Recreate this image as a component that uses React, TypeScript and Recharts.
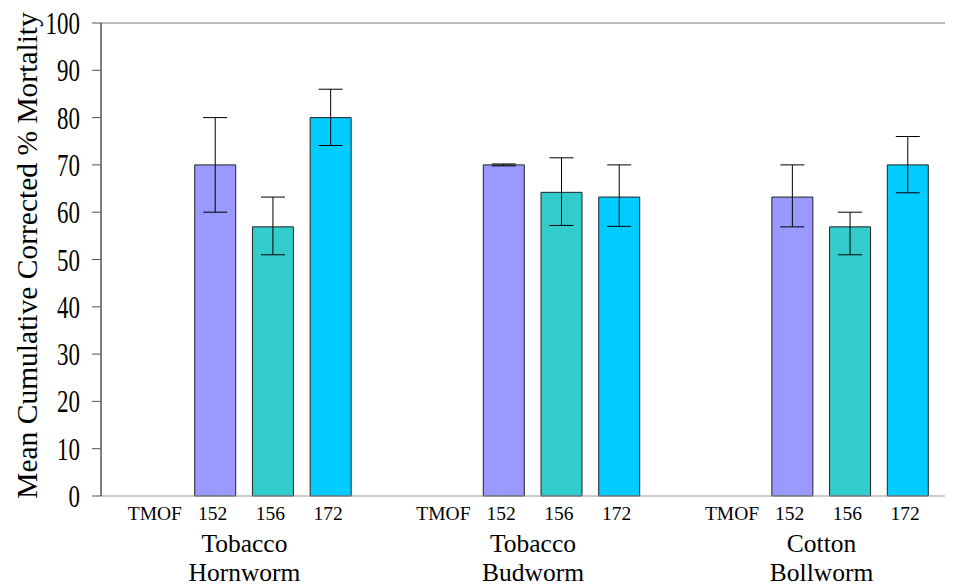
import React from 'react';
import { BarChart, Bar, XAxis, YAxis, Cell, ErrorBar, ReferenceLine } from 'recharts';

const treatments = ['TMOF', '152', '156', '172'];
const treatmentColors = ['#ffffff', '#9999ff', '#33cccc', '#00ccff'];
const groupTop = ['Tobacco', 'Tobacco', 'Cotton'];
const groupBottom = ['Hornworm', 'Budworm', 'Bollworm'];

// means and error bars (low, high) per treatment, TMOF has no bar
const hornwormMean = [null, 70, 56.9, 80];
const hornwormErrLow = [null, 10, 5.9, 5.9];
const hornwormErrHigh = [null, 10, 6.3, 6];
const budwormMean = [null, 70, 64.2, 63.2];
const budwormErrLow = [null, 0.2, 7, 6.2];
const budwormErrHigh = [null, 0.2, 7.3, 6.8];
const bollwormMean = [null, 63.2, 56.9, 70];
const bollwormErrLow = [null, 6.3, 5.9, 5.9];
const bollwormErrHigh = [null, 6.8, 3.1, 6];

const yTicks = [0, 10, 20, 30, 40, 50, 60, 70, 80, 90, 100];

const groupMeans = [hornwormMean, budwormMean, bollwormMean];
const groupLow = [hornwormErrLow, budwormErrLow, bollwormErrLow];
const groupHigh = [hornwormErrHigh, budwormErrHigh, bollwormErrHigh];

type Row = { id: string; pos: number; label: string; color: string; value: number | null; err: number[] | null };

const data: Row[] = [];
groupMeans.forEach((means, g) => {
  if (g > 0) {
    data.push({ id: `gap${g}`, pos: data.length, label: '', color: '#ffffff', value: null, err: null });
  }
  treatments.forEach((t, i) => {
    const v = means[i];
    data.push({
      id: `${g}-${t}`,
      pos: data.length,
      label: t,
      color: treatmentColors[i],
      value: v,
      err: v == null ? null : [groupLow[g][i] as number, groupHigh[g][i] as number],
    });
  });
});

// group label positions = middle of each 4-bar group on the index axis
const groupCenters = [1.5, 6.5, 11.5];

const serif = { fontFamily: 'Liberation Serif, Times New Roman, Times, serif' };

const YTick = (props: any) => {
  const { x, y, payload } = props;
  return (
    <text
      transform={`translate(${x - 12},${y + 11}) scale(0.74,1)`}
      textAnchor="end"
      style={serif}
      fontSize={31}
      fill="#000"
    >
      {payload.value}
    </text>
  );
};

const CatTick = (props: any) => {
  const { x, y, payload } = props;
  const row = data.find((d) => d.id === payload.value);
  return (
    <text x={x - 3} y={y + 24} textAnchor="middle" style={serif} fontSize={19.5} fill="#000">
      {row ? row.label : ''}
    </text>
  );
};

const GroupTick = (props: any) => {
  const { x, y, payload } = props;
  const gi = groupCenters.indexOf(payload.value);
  if (gi < 0) return null;
  return (
    <g>
      <text x={x} y={y + 26} textAnchor="middle" style={serif} fontSize={25.5} fill="#000">
        {groupTop[gi]}
      </text>
      <text x={x} y={y + 55} textAnchor="middle" style={serif} fontSize={25.5} fill="#000">
        {groupBottom[gi]}
      </text>
    </g>
  );
};

const YTitle = (props: any) => {
  const vb = props.viewBox || { x: 0, y: 0, height: 0 };
  const cx = vb.x + 19;
  const cy = vb.y + vb.height / 2 - 4;
  return (
    <text
      x={cx}
      y={cy}
      transform={`rotate(-90, ${cx}, ${cy})`}
      textAnchor="middle"
      dominantBaseline="central"
      style={serif}
      fontSize={29.5}
      fill="#000"
    >
      Mean Cumulative Corrected % Mortality
    </text>
  );
};

export default function App() {
  return (
    <div style={{ width: 945, height: 579, background: '#fff' }}>
      <BarChart width={945} height={579} data={data} margin={{ top: 15, right: 0, bottom: 0, left: 0 }}>
        <XAxis
          xAxisId="cat"
          dataKey="id"
          type="category"
          height={30}
          padding={{ left: 28, right: 16 }}
          axisLine={{ stroke: '#999999' }}
          tickLine={false}
          tickSize={0}
          tickMargin={0}
          interval={0}
          tick={<CatTick />}
        />
        <XAxis
          xAxisId="grp"
          dataKey="pos"
          type="number"
          domain={[-0.5, 13.5]}
          ticks={groupCenters}
          height={61}
          padding={{ left: 28, right: 16 }}
          axisLine={false}
          tickLine={false}
          tickSize={0}
          tickMargin={0}
          tick={<GroupTick />}
        />
        <YAxis
          domain={[0, 100]}
          ticks={yTicks}
          width={93}
          axisLine={{ stroke: '#000' }}
          tickLine={{ stroke: '#555' }}
          tickSize={9}
          tickMargin={0}
          interval={0}
          tick={<YTick />}
          label={<YTitle />}
        />
        <ReferenceLine xAxisId="cat" y={100} stroke="#a6a6a6" strokeWidth={1.5} />
        <Bar xAxisId="cat" dataKey="value" barSize={41} stroke="#222" strokeWidth={1} isAnimationActive={false}>
          {data.map((d) => (
            <Cell key={d.id} fill={d.color} />
          ))}
          <ErrorBar dataKey="err" width={12} stroke="#000" strokeWidth={1} direction="y" />
        </Bar>
      </BarChart>
    </div>
  );
}
